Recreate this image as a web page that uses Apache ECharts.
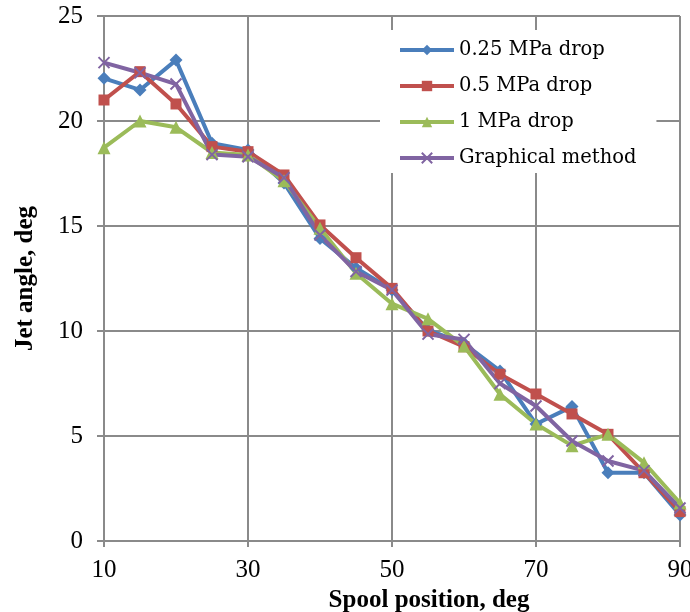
<!DOCTYPE html>
<html>
<head>
<meta charset="utf-8">
<script src="https://cdn.jsdelivr.net/npm/echarts@6/dist/echarts.min.js"></script>
<style>
html, body { margin: 0; padding: 0; background: #fff; }
#chart { width: 690px; height: 612px; }
</style>
</head>
<body>
<div id="chart"></div>
<script>
// spool position, deg
const positions = ['10', '15', '20', '25', '30', '35', '40', '45', '50', '55', '60', '65', '70', '75', '80', '85', '90'];
// jet angle, deg
const drop025 = [22.03, 21.48, 22.9, 18.94, 18.62, 17.05, 14.41, 13.0, 11.95, 10.05, 9.4, 8.1, 5.57, 6.4, 3.25, 3.25, 1.24];
const drop05 = [21.0, 22.35, 20.81, 18.78, 18.54, 17.43, 15.05, 13.49, 12.03, 10.0, 9.25, 7.94, 7.0, 6.05, 5.08, 3.25, 1.4];
const drop1 = [18.73, 20.0, 19.7, 18.5, 18.38, 17.15, 14.89, 12.75, 11.3, 10.58, 9.28, 6.99, 5.57, 4.54, 5.08, 3.73, 1.81];
const graphical = [22.78, 22.3, 21.76, 18.4, 18.3, 17.3, 14.57, 12.83, 11.95, 9.85, 9.6, 7.5, 6.43, 4.76, 3.81, 3.35, 1.57];
const yTicks = [0, 5, 10, 15, 20, 25];

const font = 'Liberation Serif';
const gridColor = '#8a8a8a';

let chart = echarts.init(document.getElementById('chart'));

function line(name, data, color, symbol, size, extra) {
    return Object.assign({
        name: name,
        type: 'line',
        data: data,
        symbol: symbol,
        symbolSize: size,
        showAllSymbol: true,
        lineStyle: { color: color, width: 4 },
        itemStyle: { color: color },
        emphasis: { disabled: true },
        z: 3
    }, extra || {});
}

let option = {
    animation: false,
    grid: { left: 104, right: 10, top: 16, bottom: 71, outerBoundsMode: 'none' },
    legend: {
        orient: 'vertical',
        left: 380,
        top: 30,
        itemWidth: 54,
        itemHeight: 13,
        itemGap: 16,
        backgroundColor: '#fff',
        padding: [10, 20, 5, 18],
        lineStyle: { width: 4 },
        textStyle: { fontFamily: 'DejaVu Serif', fontSize: 19.5, color: '#000' },
        data: ['0.25 MPa drop', '0.5 MPa drop', '1 MPa drop', 'Graphical method']
    },
    xAxis: {
        type: 'category',
        data: positions,
        boundaryGap: false,
        name: 'Spool position, deg',
        nameLocation: 'middle',
        nameGap: 46,
        nameTextStyle: { fontFamily: font, fontSize: 25, fontWeight: 'bold', color: '#000', padding: [0, 0, 0, 74] },
        axisLine: { lineStyle: { color: gridColor, width: 2 } },
        axisTick: { interval: 3, length: 6, lineStyle: { color: gridColor, width: 2 } },
        axisLabel: { interval: 3, fontFamily: font, fontSize: 25, color: '#000', margin: 17 },
        splitLine: { show: true, interval: 3, lineStyle: { color: gridColor, width: 2 } }
    },
    yAxis: {
        type: 'value',
        min: yTicks[0],
        max: yTicks[yTicks.length - 1],
        interval: 5,
        name: 'Jet angle, deg',
        nameLocation: 'middle',
        nameGap: 66,
        nameRotate: 90,
        nameTextStyle: { fontFamily: font, fontSize: 25, fontWeight: 'bold', color: '#000' },
        axisLine: { show: true, lineStyle: { color: gridColor, width: 2 } },
        axisTick: { show: true, length: 7, lineStyle: { color: gridColor, width: 2 } },
        axisLabel: { fontFamily: font, fontSize: 25, color: '#000', margin: 21 },
        splitLine: { show: true, lineStyle: { color: gridColor, width: 2 } }
    },
    series: [
        line('0.25 MPa drop', drop025, '#4a7ebb', 'diamond', 13),
        line('0.5 MPa drop', drop05, '#c0504d', 'rect', 11),
        line('1 MPa drop', drop1, '#9bbb59', 'triangle', 13),
        line('Graphical method', graphical, '#8064a2', 'path://M0,0L10,10M10,0L0,10', 11, {
            itemStyle: { color: 'none', borderColor: '#8064a2', borderWidth: 2 }
        })
    ]
};

chart.setOption(option);
</script>
</body>
</html>
